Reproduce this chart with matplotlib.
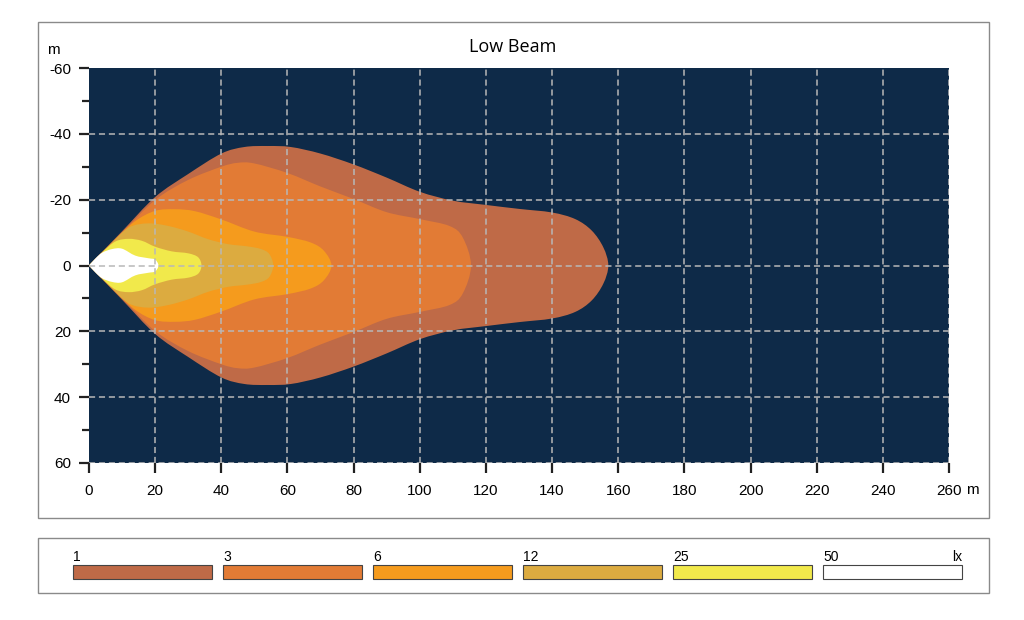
import numpy as np
import matplotlib
matplotlib.use("Agg")
import matplotlib.pyplot as plt
from matplotlib.path import Path
from matplotlib.patches import PathPatch, Rectangle

# ---- data: isolux contours (distance m, half-width m) ----
lx1_x = [0, 10, 20, 30, 40, 47, 54, 61, 70, 80, 90, 100, 110, 120, 130, 140, 147, 152, 155.5, 157]
lx1_w = [0, 10.4, 20.8, 27.8, 34, 36, 36.3, 36, 34, 30.7, 26.7, 22.4, 19.7, 18.4, 17.2, 16.1, 14.1, 10.6, 5.5, 0]

lx3_x = [0, 10, 20, 30, 40, 45, 50, 60, 70, 80, 90, 100, 109, 113, 115.5]
lx3_w = [0, 10, 19.9, 26, 30, 31.2, 31, 28.1, 24, 20.2, 16.2, 14.1, 12, 8.5, 0]

lx6_x = [0, 8, 14, 20, 26, 32, 40, 50, 60, 67, 71, 73.3]
lx6_w = [0, 8, 13.5, 16.6, 17.1, 16.5, 14, 10.3, 8.7, 7, 4.5, 0]

lx12_x = [0, 6, 12, 18, 24, 30, 36, 42, 48, 52, 54.5, 55.7]
lx12_w = [0, 6, 11.5, 12.8, 12, 10.3, 8, 6.5, 5.8, 5, 3.5, 0]

lx25_x = [0, 4, 8, 12, 16, 20, 25, 30, 33, 34]
lx25_w = [0, 4, 7.3, 8.1, 7.5, 5.7, 4.3, 3.7, 2.5, 0]

lx50_x = [0, 2, 4, 7, 10, 14, 18, 20, 21]
lx50_w = [0, 2.2, 3.9, 5, 5.1, 3, 2.2, 1.8, 0]

levels = ["1", "3", "6", "12", "25", "50"]
colors = ["#BF6A47", "#E27B35", "#F59B1D", "#DCAB40", "#F1E94B", "#FFFFFF"]
contours = [(lx1_x, lx1_w), (lx3_x, lx3_w), (lx6_x, lx6_w),
            (lx12_x, lx12_w), (lx25_x, lx25_w), (lx50_x, lx50_w)]

x_ticks = list(range(0, 261, 20))
y_ticks = [-60, -40, -20, 0, 20, 40, 60]


def contour_path(xs, ws):
    xs = np.asarray(xs, float)
    ws = np.asarray(ws, float)
    # upper side origin -> tip, lower side tip -> origin
    px = np.concatenate([xs, xs[-2::-1]])
    py = np.concatenate([-ws, ws[-2::-1]])
    pts = np.column_stack([px, py])
    n = len(pts)
    verts = [pts[0]]
    codes = [Path.MOVETO]
    for i in range(n - 1):
        p0 = pts[i - 1] if i > 0 else pts[i]
        p1 = pts[i]
        p2 = pts[i + 1]
        p3 = pts[i + 2] if i + 2 < n else pts[i + 1]
        c1 = p1 if i == 0 else p1 + (p2 - p0) / 6.0
        c2 = p2 if i + 1 == n - 1 else p2 - (p3 - p1) / 6.0
        verts += [c1, c2, p2]
        codes += [Path.CURVE4] * 3
    verts.append(pts[0])
    codes.append(Path.CLOSEPOLY)
    return Path(verts, codes)


plt.rcParams['font.family'] = ['Liberation Sans', 'DejaVu Sans']

fig = plt.figure(figsize=(10.24, 6.2), dpi=100)

# outer frames
fig.patches.append(Rectangle((38 / 1024, 1 - 518 / 620), 951 / 1024, 496 / 620,
                             transform=fig.transFigure, fill=False,
                             edgecolor="#8a8a8a", linewidth=1.0))
fig.patches.append(Rectangle((38 / 1024, 1 - 593 / 620), 951 / 1024, 55 / 620,
                             transform=fig.transFigure, fill=False,
                             edgecolor="#8a8a8a", linewidth=1.0))

ax = fig.add_axes([89 / 1024, 1 - 463 / 620, 860 / 1024, 395 / 620])
ax.set_facecolor("#0E2A48")
ax.set_xlim(0, 260)
ax.set_ylim(60, -60)

for (xs, ws), c in zip(contours, colors):
    ax.add_patch(PathPatch(contour_path(xs, ws), facecolor=c, edgecolor="none", zorder=2))

ax.set_xticks(x_ticks)
ax.set_yticks(y_ticks)
ax.set_yticks(list(range(-50, 60, 20)), minor=True)
ax.set_xticklabels([str(v) for v in x_ticks], fontsize=11)
ax.set_yticklabels([str(v) for v in y_ticks], fontsize=11)
ax.tick_params(axis="both", which="major", length=7, width=1.6, color="#222222", pad=6)
ax.tick_params(axis="x", which="major", pad=8)
ax.tick_params(axis="y", which="minor", length=5, width=1.6, color="#222222")
for s in ax.spines.values():
    s.set_visible(False)

ax.grid(True, which="major", color="#b8b8b8", linestyle=(0, (4, 2.5)), linewidth=1.1, zorder=3)
ax.set_axisbelow(False)
ax.get_xgridlines()[0].set_visible(False)
ax.get_ygridlines()[0].set_visible(False)

fig.text(513 / 1024, 1 - 47 / 620, "Low Beam", ha="center", va="center",
         fontsize=13, family=["Open Sans", "DejaVu Sans"])
fig.text(47 / 1024, 1 - 50 / 620, "m", ha="left", va="center", fontsize=11)
fig.text(966 / 1024, 1 - 490 / 620, "m", ha="left", va="center", fontsize=11)

# legend
sw_left = [73, 223, 373, 523, 673, 823]
for lbl, c, xl in zip(levels, colors, sw_left):
    fig.patches.append(Rectangle((xl / 1024, 1 - 579 / 620), 139 / 1024, 14 / 620,
                                 transform=fig.transFigure, facecolor=c,
                                 edgecolor="#444444", linewidth=0.8))
    fig.text(xl / 1024, 1 - 557 / 620, lbl, ha="left", va="center", fontsize=10)
fig.text(962 / 1024, 1 - 557 / 620, "lx", ha="right", va="center", fontsize=10)

fig.savefig("out.png", dpi=100)
